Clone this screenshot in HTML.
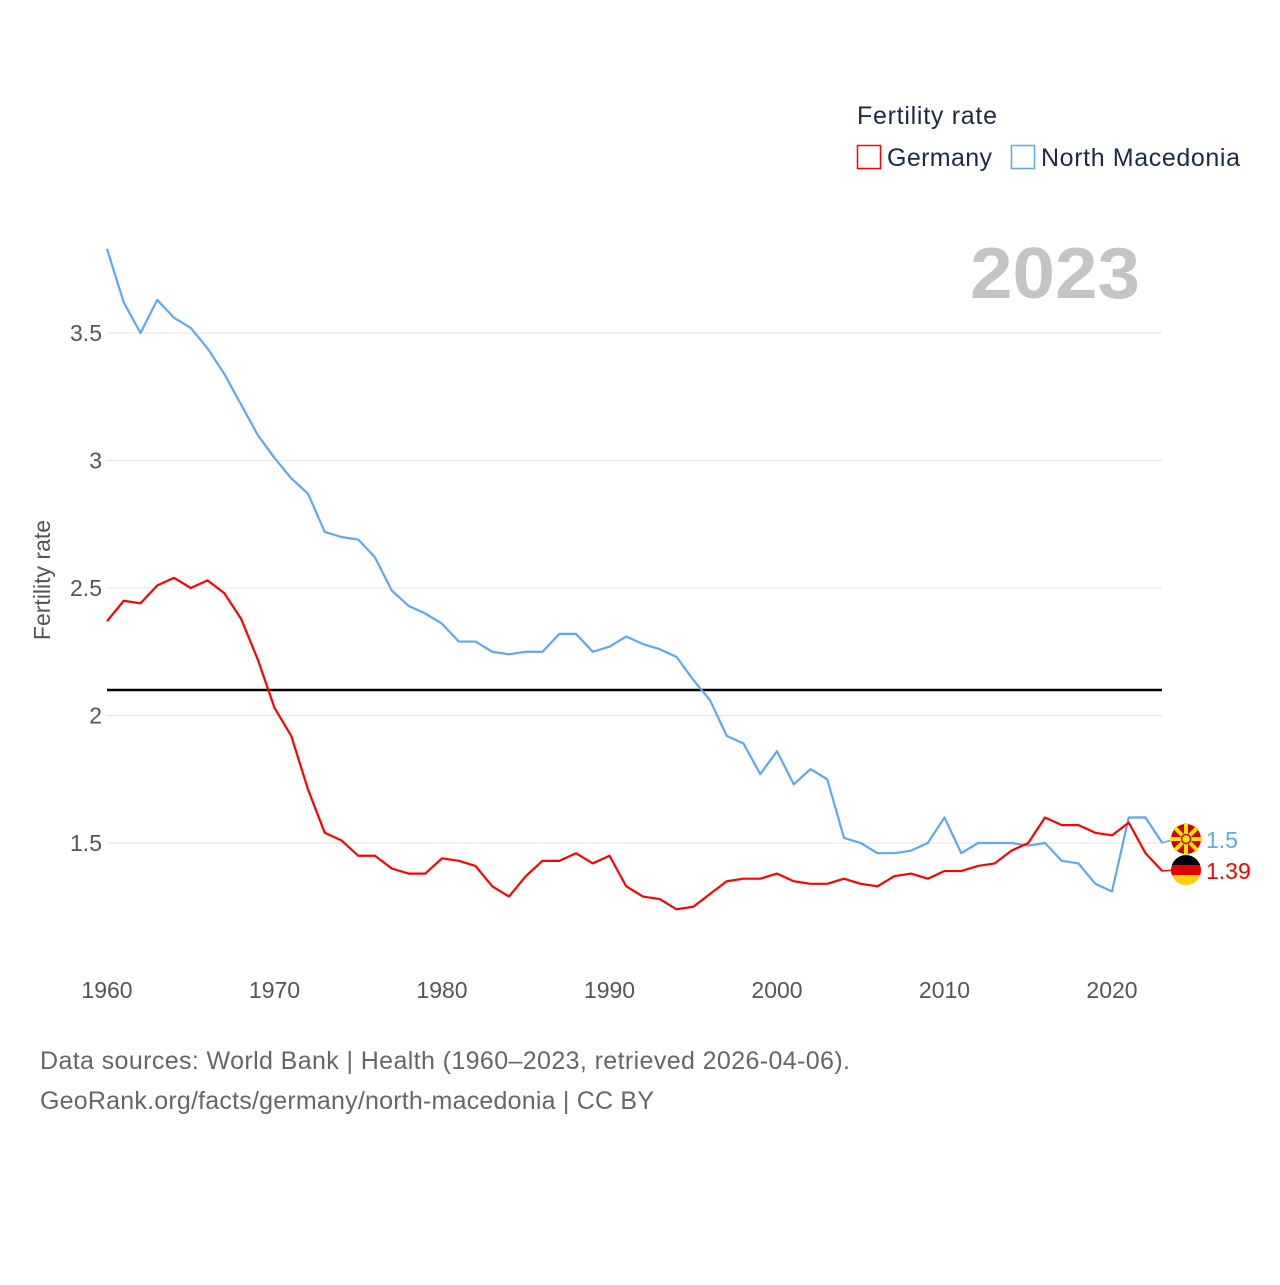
<!DOCTYPE html>
<html><head><meta charset="utf-8">
<style>
html,body{margin:0;padding:0;background:#fff;}
body{width:1280px;height:1280px;overflow:hidden;font-family:"Liberation Sans",sans-serif;}
text{font-family:"Liberation Sans",sans-serif;}
</style></head>
<body>
<svg id="chart" width="1280" height="1280" viewBox="0 0 1280 1280">
  <g id="grid"></g>
  <g id="yticks"></g>
  <g id="xticks"></g>
  <text x="970" y="298" textLength="170" lengthAdjust="spacingAndGlyphs" font-size="72" font-weight="bold" fill="#c4c4c4">2023</text>
  <text transform="translate(50,580) rotate(-90)" text-anchor="middle" font-size="23" fill="#555">Fertility rate</text>
  <g id="series"></g>
  <g>
    <text x="857" y="124" textLength="140" font-size="25" fill="#1c2a44">Fertility rate</text>
    <g>
      <rect x="857.5" y="145.5" width="23" height="23" fill="none" stroke="#ff0000" stroke-width="1.5"/>
      <text x="887" y="166" textLength="105" font-size="25" fill="#1c2a44">Germany</text>
    </g>
    <g>
      <rect x="1011.5" y="145.5" width="23" height="23" fill="none" stroke="#5ea8ef" stroke-width="1.5"/>
      <text x="1041" y="166" textLength="199" font-size="25" fill="#1c2a44">North Macedonia</text>
    </g>
  </g>
  <text x="40" y="1069" textLength="810" font-size="25" fill="#666">Data sources: World Bank | Health (1960–2023, retrieved 2026-04-06).</text>
  <text x="40" y="1109" textLength="614" font-size="25" fill="#666">GeoRank.org/facts/germany/north-macedonia | CC BY</text>
</svg>
<script>
const years = [];
for (let y = 1960; y <= 2023; y++) years.push(y);
const macedonia = [3.83,3.62,3.50,3.63,3.56,3.52,3.44,3.34,3.22,3.10,3.01,2.93,2.87,2.72,2.70,2.69,2.62,2.49,2.43,2.40,2.36,2.29,2.29,2.25,2.24,2.25,2.25,2.32,2.32,2.25,2.27,2.31,2.28,2.26,2.23,2.14,2.06,1.92,1.89,1.77,1.86,1.73,1.79,1.75,1.52,1.50,1.46,1.46,1.47,1.50,1.60,1.46,1.50,1.50,1.50,1.49,1.50,1.43,1.42,1.34,1.31,1.60,1.60,1.50];
const germany = [2.37,2.45,2.44,2.51,2.54,2.50,2.53,2.48,2.38,2.22,2.03,1.92,1.71,1.54,1.51,1.45,1.45,1.40,1.38,1.38,1.44,1.43,1.41,1.33,1.29,1.37,1.43,1.43,1.46,1.42,1.45,1.33,1.29,1.28,1.24,1.25,1.30,1.35,1.36,1.36,1.38,1.35,1.34,1.34,1.36,1.34,1.33,1.37,1.38,1.36,1.39,1.39,1.41,1.42,1.47,1.50,1.60,1.57,1.57,1.54,1.53,1.58,1.46,1.39];
const yTicks = [1.5,2,2.5,3,3.5];
const yTickLabels = ["1.5","2","2.5","3","3.5"];
const xTicks = [1960,1970,1980,1990,2000,2010,2020];
const refValue = 2.1;

const NS = "http://www.w3.org/2000/svg";
const X = yr => 107 + (yr - 1960) * 16.75;
const Y = v => 843 - (v - 1.5) * 255;
function mk(tag, attrs, parent){const e=document.createElementNS(NS,tag);for(const k in attrs)e.setAttribute(k,attrs[k]);parent.appendChild(e);return e;}

const grid=document.getElementById('grid'), yt=document.getElementById('yticks'), xt=document.getElementById('xticks'), ser=document.getElementById('series');
yTicks.forEach((v,i)=>{
  const l=mk('line',{x1:107,x2:1162,y1:Y(v),y2:Y(v),stroke:'#e6e6e6','stroke-width':1},grid);
  
  
  const t=mk('text',{x:102,y:Y(v)+8,'text-anchor':'end','font-size':23,fill:'#555'},yt);
  t.textContent=yTickLabels[i];
  
  
});
xTicks.forEach(yr=>{
  const t=mk('text',{x:X(yr),y:998,'text-anchor':'middle','font-size':23,fill:'#555'},xt);
  t.textContent=String(yr);
  
  
});
const ref=mk('line',{x1:107,x2:1162,y1:Y(refValue),y2:Y(refValue),stroke:'#000','stroke-width':2.5},ser);



function line(vals,color,name){
  const p=mk('polyline',{points:vals.map((v,i)=>X(years[i])+','+Y(v)).join(' '),fill:'none',stroke:color,'stroke-width':2.2,'stroke-linejoin':'round'},ser);
  
  
}
line(macedonia,'#5ea8ef','north-macedonia-line');
line(germany,'#ff0000','germany-line');

const lastM=macedonia[macedonia.length-1], lastG=germany[germany.length-1];
const yM=Y(lastM)-4, yG=Y(lastG)-1;
mk('line',{x1:1162,x2:1175,y1:Y(lastM),y2:yM,stroke:'#5ea8ef','stroke-width':1.5},ser);
mk('line',{x1:1162,x2:1175,y1:Y(lastG),y2:yG,stroke:'#ff0000','stroke-width':1.5},ser);
const fm=mk('g',{},ser);


mk('circle',{cx:1186,cy:yM,r:15,fill:'#d20000'},fm);
for(let a=0;a<8;a++){const ang=a*Math.PI/4;mk('line',{x1:1186,y1:yM,x2:1186+16*Math.cos(ang),y2:yM+16*Math.sin(ang),stroke:'#ffe600','stroke-width':4},fm);}
mk('circle',{cx:1186,cy:yM,r:4.5,fill:'#ffe600',stroke:'#d20000','stroke-width':1.5},fm);
const fg=mk('g',{},ser);


const cp=mk('clipPath',{id:'dec'},fg);mk('circle',{cx:1186,cy:yG,r:15},cp);
mk('rect',{x:1171,y:yG-15,width:30,height:10,fill:'#000','clip-path':'url(#dec)'},fg);
mk('rect',{x:1171,y:yG-5,width:30,height:10,fill:'#dd0000','clip-path':'url(#dec)'},fg);
mk('rect',{x:1171,y:yG+5,width:30,height:10,fill:'#ffce00','clip-path':'url(#dec)'},fg);
const tm=mk('text',{x:1206,y:yM+9,'font-size':23,fill:'#5ea8ef'},ser);tm.textContent=String(lastM);


const tg=mk('text',{x:1206,y:yG+9,'font-size':23,fill:'#ff0000'},ser);tg.textContent=String(lastG);


</script>
</body></html>
